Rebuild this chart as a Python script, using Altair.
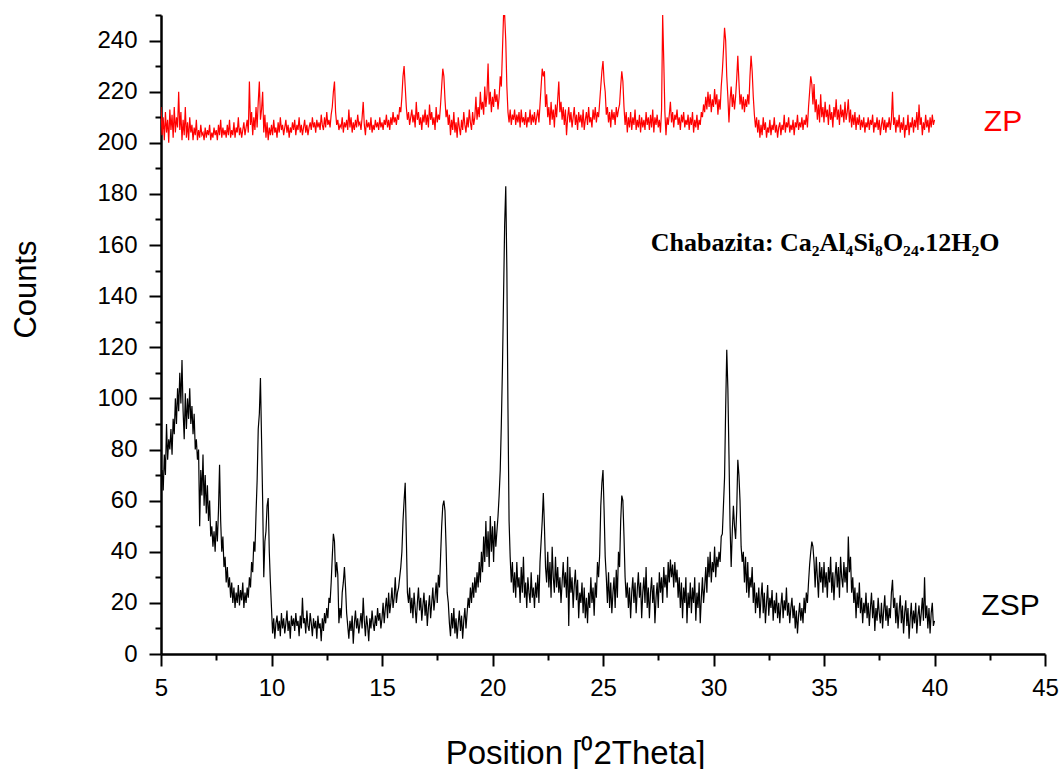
import altair as alt
import pandas as pd

# ---------------- data ----------------
scan_start = 5.0
scan_step = 0.05

zsp_counts = [
    66, 72, 64, 78, 70, 90, 76, 84, 80, 88, 78, 92, 86, 100, 90, 104, 95, 110, 98, 115,
    95, 84, 102, 88, 100, 92, 104, 90, 97, 86, 94, 80, 84, 76, 80, 50, 72, 62, 78, 58,
    70, 55, 66, 52, 60, 46, 50, 42, 48, 40, 52, 44, 56, 74, 52, 40, 46, 34, 38, 28,
    34, 26, 30, 22, 28, 20, 26, 18, 24, 20, 27, 19, 25, 21, 28, 18, 24, 20, 26, 22,
    30, 26, 36, 32, 44, 40, 55, 68, 88, 94, 108, 84, 60, 30, 44, 48, 58, 61, 40, 28,
    18, 8, 14, 6, 12, 15, 9, 13, 7, 16, 10, 14, 8, 12, 17, 9, 13, 6, 15, 11,
    14, 9, 16, 11, 13, 7, 15, 10, 22, 12, 14, 8, 17, 11, 9, 16, 12, 7, 14, 10,
    13, 6, 15, 10, 12, 5, 14, 9, 16, 12, 18, 14, 22, 20, 28, 38, 47, 44, 30, 36,
    31, 12, 18, 14, 24, 28, 34, 26, 16, 11, 6, 13, 9, 15, 4, 12, 17, 10, 14, 8,
    12, 16, 10, 22, 13, 7, 15, 11, 5, 14, 10, 17, 12, 9, 15, 11, 18, 13, 16, 10,
    14, 20, 12, 18, 22, 14, 24, 16, 20, 26, 18, 22, 30, 20, 24, 26, 30, 34, 40, 52,
    60, 67, 46, 24, 20, 26, 16, 22, 14, 24, 18, 12, 20, 26, 17, 22, 13, 19, 24, 15,
    21, 11, 18, 23, 14, 20, 26, 17, 22, 28, 20, 31, 26, 38, 50, 58, 60, 56, 42, 24,
    20, 12, 7, 16, 10, 18, 8, 14, 6, 12, 17, 9, 15, 6, 13, 18, 10, 16, 22, 18,
    26, 20, 28, 22, 30, 24, 32, 26, 36, 28, 40, 32, 46, 36, 52, 38, 48, 34, 54, 40,
    50, 36, 52, 42, 48, 54, 62, 72, 90, 112, 140, 168, 183, 150, 96, 52, 38, 28, 36, 24,
    32, 22, 36, 26, 30, 20, 34, 24, 38, 22, 28, 18, 30, 24, 20, 32, 22, 26, 18, 28,
    22, 31, 20, 36, 44, 52, 63, 50, 34, 28, 40, 26, 36, 22, 42, 30, 24, 38, 26, 34,
    24, 30, 20, 28, 36, 26, 32, 22, 38, 11, 34, 24, 30, 18, 27, 33, 21, 29, 14, 24,
    20, 28, 16, 26, 14, 22, 12, 24, 18, 30, 20, 26, 15, 28, 22, 36, 30, 39, 58, 67,
    72, 56, 38, 30, 20, 32, 18, 28, 16, 24, 30, 18, 33, 22, 40, 34, 52, 62, 60, 46,
    30, 22, 28, 18, 26, 14, 24, 30, 20, 28, 16, 25, 32, 22, 28, 14, 24, 30, 20, 34,
    18, 26, 14, 24, 30, 20, 27, 12, 22, 28, 18, 32, 24, 30, 20, 34, 26, 31, 22, 36,
    28, 37, 30, 35, 26, 36, 28, 33, 22, 30, 18, 28, 14, 26, 20, 30, 12, 24, 18, 28,
    16, 26, 20, 30, 13, 24, 18, 28, 12, 22, 30, 20, 26, 34, 24, 38, 30, 40, 28, 36,
    32, 42, 30, 38, 34, 40, 36, 46, 47, 58, 69, 96, 119, 104, 78, 50, 34, 48, 58, 50,
    45, 56, 76, 70, 60, 42, 36, 40, 28, 38, 24, 36, 22, 30, 26, 34, 20, 28, 16, 24,
    18, 26, 14, 22, 28, 16, 24, 12, 20, 27, 15, 22, 18, 25, 13, 21, 16, 24, 14, 20,
    12, 19, 24, 14, 21, 17, 26, 15, 20, 12, 18, 22, 14, 19, 10, 17, 8, 15, 20, 13,
    18, 12, 22, 16, 24, 20, 28, 35, 40, 44, 42, 36, 26, 38, 30, 22, 36, 28, 34, 24,
    36, 26, 32, 22, 34, 28, 38, 24, 32, 21, 30, 36, 26, 34, 22, 38, 30, 26, 36, 28,
    34, 24, 46, 32, 38, 24, 30, 20, 26, 14, 24, 18, 28, 16, 22, 12, 20, 16, 24, 14,
    20, 11, 18, 24, 14, 21, 9, 18, 13, 22, 16, 12, 20, 10, 17, 23, 13, 19, 11, 18,
    14, 24, 29, 18, 22, 12, 20, 10, 17, 23, 12, 19, 8, 16, 21, 11, 18, 6, 14, 20,
    10, 17, 12, 20, 8, 15, 19, 11, 16, 22, 13, 30, 14, 19, 10, 18, 8, 16, 20, 11,
    13,
]

zp_counts = [
    214, 203, 210, 201, 212, 204, 209, 200, 213, 205, 211, 202, 214, 204, 210, 206, 220, 205, 212, 201,
    209, 203, 214, 202, 208, 201, 210, 204, 207, 201, 206, 203, 209, 201, 205, 202, 207, 203, 204, 201,
    206, 202, 205, 203, 207, 201, 204, 202, 206, 203, 205, 201, 207, 203, 209, 202, 206, 203, 205, 202,
    207, 203, 209, 202, 205, 203, 208, 202, 206, 204, 210, 203, 206, 202, 205, 208, 203, 206, 209, 204,
    224, 207, 212, 203, 210, 205, 214, 206, 216, 224, 209, 213, 220, 204, 211, 202, 208, 201, 206, 203,
    207, 203, 209, 204, 206, 202, 208, 204, 210, 205, 207, 203, 206, 209, 204, 207, 202, 206, 204, 208,
    205, 209, 203, 207, 205, 210, 204, 207, 203, 206, 209, 204, 207, 203, 206, 208, 205, 210, 206, 208,
    204, 209, 206, 208, 205, 211, 207, 205, 210, 206, 212, 207, 209, 206, 211, 214, 220, 224, 212, 207,
    209, 205, 207, 206, 210, 204, 208, 206, 209, 205, 213, 206, 210, 204, 208, 205, 209, 206, 211, 207,
    208, 205, 210, 216, 207, 203, 209, 206, 208, 205, 210, 204, 207, 205, 209, 206, 208, 205, 210, 206,
    208, 205, 209, 207, 211, 206, 209, 205, 210, 207, 212, 208, 210, 207, 211, 209, 214, 212, 218, 226,
    230, 222, 214, 209, 212, 207, 210, 213, 208, 211, 206, 216, 209, 212, 207, 210, 205, 211, 208, 213,
    207, 211, 206, 215, 209, 212, 207, 210, 205, 214, 208, 211, 209, 215, 222, 229, 226, 217, 210, 213,
    207, 211, 203, 209, 205, 212, 204, 208, 202, 210, 206, 203, 209, 205, 212, 207, 204, 210, 206, 213,
    208, 205, 212, 207, 210, 218, 209, 214, 210, 220, 213, 216, 211, 222, 214, 219, 231, 215, 220, 212,
    218, 214, 221, 216, 219, 213, 218, 226, 222, 236, 250, 250, 240, 222, 212, 208, 213, 207, 211, 209,
    213, 207, 211, 208, 212, 206, 213, 208, 210, 207, 212, 206, 210, 208, 213, 207, 211, 208, 212, 207,
    210, 213, 208, 215, 222, 229, 226, 228, 214, 219, 210, 214, 207, 216, 209, 213, 206, 215, 210, 217,
    224, 212, 216, 209, 214, 207, 213, 203, 210, 214, 208, 212, 206, 210, 214, 207, 211, 205, 212, 208,
    211, 206, 213, 205, 209, 212, 207, 214, 208, 210, 206, 213, 209, 214, 208, 212, 210, 216, 222, 228,
    232, 224, 220, 211, 214, 208, 212, 206, 213, 209, 212, 207, 214, 210, 213, 215, 222, 228, 224, 214,
    207, 212, 204, 210, 206, 212, 205, 210, 207, 213, 205, 209, 206, 211, 204, 210, 206, 209, 205, 212,
    207, 210, 205, 211, 206, 213, 204, 210, 207, 211, 206, 209, 204, 213, 250, 232, 212, 203, 210, 207,
    211, 216, 208, 212, 206, 211, 209, 213, 207, 210, 205, 211, 208, 212, 206, 209, 207, 211, 205, 210,
    207, 212, 204, 209, 206, 211, 205, 209, 207, 212, 210, 215, 212, 218, 213, 220, 214, 219, 212, 217,
    214, 221, 215, 219, 211, 217, 213, 222, 228, 236, 245, 240, 226, 218, 208, 217, 222, 214, 219, 213,
    218, 225, 234, 224, 215, 219, 213, 218, 212, 217, 214, 219, 215, 226, 234, 228, 218, 211, 206, 210,
    204, 209, 202, 207, 203, 210, 205, 208, 202, 206, 204, 209, 203, 207, 205, 210, 204, 207, 202, 206,
    208, 203, 207, 205, 211, 204, 208, 206, 210, 204, 207, 205, 209, 203, 208, 206, 211, 205, 208, 206,
    210, 205, 209, 207, 211, 206, 214, 220, 226, 223, 215, 223, 212, 217, 209, 215, 208, 219, 210, 214,
    208, 216, 210, 213, 207, 215, 209, 212, 206, 214, 210, 217, 209, 213, 207, 215, 210, 213, 208, 216,
    209, 212, 217, 208, 213, 206, 211, 207, 212, 205, 210, 207, 211, 205, 209, 206, 210, 204, 208, 206,
    210, 205, 209, 207, 211, 204, 208, 206, 210, 205, 209, 203, 207, 210, 205, 209, 204, 208, 206, 210,
    205, 209, 220, 207, 210, 204, 209, 206, 211, 204, 208, 205, 210, 202, 207, 205, 211, 203, 208, 206,
    210, 204, 209, 206, 212, 205, 215, 207, 210, 203, 208, 205, 211, 206, 209, 204, 210, 206, 211, 207,
    209,
]

series_names = ["ZSP", "ZP"]
series_colors = ["#000000", "#ff0000"]

x_major = [5, 10, 15, 20, 25, 30, 35, 40, 45]
x_minor = [7.5, 12.5, 17.5, 22.5, 27.5, 32.5, 37.5, 42.5]
y_major = [0, 20, 40, 60, 80, 100, 120, 140, 160, 180, 200, 220, 240]
y_minor = [10, 30, 50, 70, 90, 110, 130, 150, 170, 190, 210, 230, 250]

x_title = "Position [\u20702Theta]"
y_title = "Counts"
phase_label = "Chabazita: Ca\u2082Al\u2084Si\u2088O\u2082\u2084.12H\u2082O"

# ---------------- tables ----------------
def scan(values, name):
    return pd.DataFrame({
        "theta": [round(scan_start + scan_step * i, 2) for i in range(len(values))],
        "counts": values,
        "sample": name,
    })

df = pd.concat([scan(zsp_counts, "ZSP"), scan(zp_counts, "ZP")], ignore_index=True)

zp_lab = pd.DataFrame({"x": [43.1], "y": [204.8], "t": ["ZP"]})
zsp_lab = pd.DataFrame({"x": [43.44], "y": [15.3], "t": ["ZSP"]})
phase_lab = pd.DataFrame({"x": [35.05], "y": [157.5], "t": [phase_label]})

SANS = "Liberation Sans, Arial, Helvetica, sans-serif"
xs = alt.Scale(domain=[5, 45], nice=False, zero=False)
ys = alt.Scale(domain=[0, 250], nice=False, zero=False)

x_axis_major = alt.Axis(
    orient="bottom", values=x_major, grid=False,
    domainColor="black", domainWidth=2.5,
    tickColor="black", tickWidth=2, tickSize=12,
    labelFont=SANS, labelFontSize=24, labelColor="black", labelPadding=10,
    labelFlush=False, labelOverlap=False,
    title=x_title, titleFont=SANS, titleFontSize=33, titleFontWeight="normal",
    titleColor="black", titleX=414, titleY=109, titleAlign="center",
    titleBaseline="alphabetic",
)
y_axis_major = alt.Axis(
    orient="left", values=y_major, grid=False,
    domainColor="black", domainWidth=2.5,
    tickColor="black", tickWidth=2, tickSize=12,
    labelFont=SANS, labelFontSize=24, labelColor="black", labelPadding=12,
    labelFlush=False, labelOverlap=False,
    title=y_title, titleFont=SANS, titleFontSize=31, titleFontWeight="normal",
    titleColor="black", titleAngle=270, titleX=-135, titleY=274,
    titleAlign="center", titleBaseline="middle",
)
x_axis_minor = alt.Axis(
    orient="bottom", values=x_minor, grid=False, domain=False, labels=False,
    tickColor="black", tickWidth=2, tickSize=6, title=None,
)
y_axis_minor = alt.Axis(
    orient="left", values=y_minor, grid=False, domain=False, labels=False,
    tickColor="black", tickWidth=2, tickSize=6, title=None,
)

lines = alt.Chart(df).mark_line(strokeWidth=1.2, clip=True).encode(
    x=alt.X("theta:Q", scale=xs, axis=x_axis_major),
    y=alt.Y("counts:Q", scale=ys, axis=y_axis_major),
    color=alt.Color("sample:N", scale=alt.Scale(domain=series_names, range=series_colors), legend=None),
)

minor = alt.Chart(zsp_lab).mark_point(opacity=0).encode(
    x=alt.X("x:Q", scale=xs, axis=x_axis_minor),
    y=alt.Y("y:Q", scale=ys, axis=y_axis_minor),
)

def label(data, color, font, size, weight):
    return alt.Chart(data).mark_text(
        color=color, font=font, fontSize=size, fontWeight=weight,
        align="center", baseline="alphabetic",
    ).encode(
        x=alt.X("x:Q", scale=xs, axis=None),
        y=alt.Y("y:Q", scale=ys, axis=None),
        text="t:N",
    )

zp_text = label(zp_lab, "#ff0000", SANS, 30, "normal")
zsp_text = label(zsp_lab, "#000000", SANS, 30, "normal")
phase_text = label(phase_lab, "#000000", "Liberation Serif, Times New Roman, serif", 26, "bold")

chart = alt.layer(lines, minor, zp_text, zsp_text, phase_text).resolve_axis(
    x="independent", y="independent"
).properties(
    width=884, height=639,
    padding={"left": 161, "top": 15, "right": 19, "bottom": 115},
    autosize=alt.AutoSizeParams(type="none"),
    background="white",
).configure_view(stroke="transparent")

chart.save("out.html", embed_options={"renderer": "svg", "actions": False})
